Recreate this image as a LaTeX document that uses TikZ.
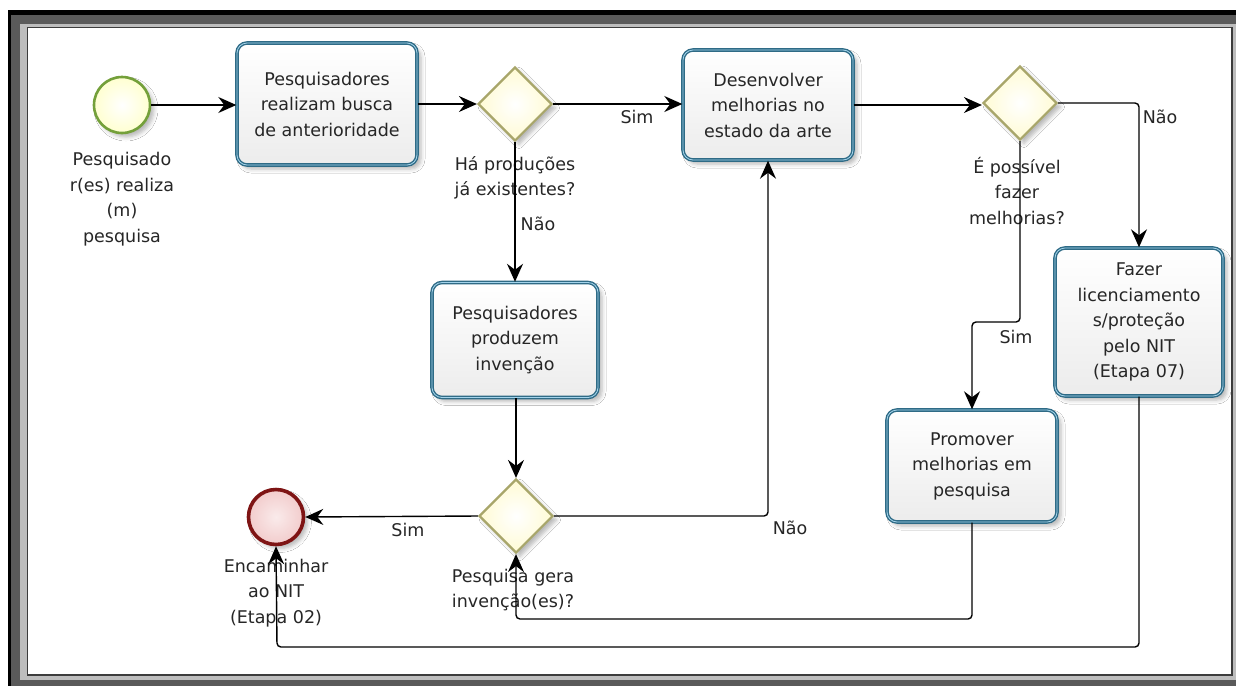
\documentclass[tikz,border=0pt]{standalone}
\usepackage{fontspec}
\setmainfont{DejaVu Sans}
\usetikzlibrary{shapes.geometric,arrows.meta,shadows.blur,calc}

\definecolor{txt}{HTML}{262626}
\definecolor{taskline}{HTML}{2F6B86}
\definecolor{taskinner}{HTML}{A4D4EC}
\definecolor{taskfill}{HTML}{ECECEC}
\definecolor{gateline}{HTML}{A8A66A}
\definecolor{gatefill}{HTML}{FFFBD4}
\definecolor{startline}{HTML}{74A03A}
\definecolor{startfill}{HTML}{FFFFD0}
\definecolor{endline}{HTML}{7E1414}
\definecolor{endfill}{HTML}{F2CCCC}
\definecolor{frdark}{HTML}{5A5A5A}
\definecolor{frlight}{HTML}{BDBDBD}
\definecolor{frline}{HTML}{3C3C3C}

\begin{document}
\begin{tikzpicture}[x=1pt,y=-1pt,
  font=\fontsize{17.5}{25.5}\selectfont,
  softshadow/.style={blur shadow={shadow xshift=4pt, shadow yshift=-4pt,
      shadow blur radius=4pt, shadow opacity=28}},
  taskbox/.style={rectangle, rounded corners=10pt, draw=taskline,
      double=taskinner, double distance=0.8pt, line width=1.4pt,
      top color=white, bottom color=taskfill, align=center, text=txt,
      inner sep=2pt, softshadow},
  gate/.style={diamond, draw=gateline, line width=2.2pt, inner color=white,
      outer color=gatefill, minimum width=74pt, minimum height=74pt,
      inner sep=0pt, softshadow},
  startev/.style={circle, draw=startline, line width=2.6pt, inner color=white,
      outer color=startfill, minimum size=56pt, inner sep=0pt, softshadow},
  endev/.style={circle, draw=endline, line width=3.6pt, inner color=white!60!endfill,
      outer color=endfill, minimum size=55pt, inner sep=0pt, softshadow},
  lbl/.style={align=center, text=txt, inner sep=0pt},
  flow/.style={draw=black, line width=1.4pt, rounded corners=4pt,
      -{Stealth[length=18pt, width=16pt, inset=6pt]}}
]
\useasboundingbox (0,0) rectangle (1236,686);

% page background and window frame
\fill[white] (0,0) rectangle (1236,686);
\fill[black] (8,10) rectangle (1236,686);
\fill[frdark] (11,15) rectangle (1236,686);
\fill[frlight] (20,24) rectangle (1236,680);
\filldraw[fill=white, draw=frline, line width=1.5pt] (27.5,27.5) rectangle (1232,675);

% events
\node[startev] (s) at (122,105) {};
\node[endev] (e) at (276,517) {};

% tasks
\node[taskbox, minimum width=180pt, minimum height=122pt] (t1) at (327,104)
  {Pesquisadores\\realizam busca\\de anterioridade};
\node[taskbox, minimum width=170pt, minimum height=110pt] (t2) at (768,105)
  {Desenvolver\\melhorias no\\estado da arte};
\node[taskbox, minimum width=166pt, minimum height=115pt] (t3) at (515,340)
  {Pesquisadores\\produzem\\invenção};
\node[taskbox, minimum width=168pt, minimum height=148pt] (t4) at (1139,322)
  {Fazer\\licenciamento\\s/proteção\\pelo NIT\\(Etapa 07)};
\node[taskbox, minimum width=170pt, minimum height=112pt] (t5) at (972,466)
  {Promover\\melhorias em\\pesquisa};

% gateways
\node[gate] (g1) at (515,104) {};
\node[gate] (g2) at (1020,103) {};
\node[gate] (g3) at (516,516) {};

% element captions
\node[lbl] (sl) at (122,199) {Pesquisado\\r(es) realiza\\(m)\\pesquisa};
\node[lbl] (g1l) at (515,178) {Há produções\\já existentes?};
\node[lbl] (g2l) at (1017,191) {É possível\\fazer\\melhorias?};
\node[lbl] (g3l) at (513,590) {Pesquisa gera\\invenção(es)?};
\node[lbl] (el) at (276,593) {Encaminhar\\ao NIT\\(Etapa 02)};

% branch labels
\node[lbl] (l1) at (637,117) {Sim};
\node[lbl] (l2) at (538,224) {Não};
\node[lbl] (l3) at (408,530) {Sim};
\node[lbl] (l4) at (790,528) {Não};
\node[lbl] (l5) at (1160,117) {Não};
\node[lbl] (l6) at (1016,337) {Sim};

% routing points
\coordinate (j2) at (1020,322);
\coordinate (r1) at (516,619);
\coordinate (r2) at (277,647);

% sequence flows
\draw[flow] (s.east) -- (s.east -| t1.west);
\draw[flow] (t1.east) -- (t1.east -| g1.west);
\draw[flow] (g1.east) -- (g1.east -| t2.west);
\draw[flow] (g1.south) -- (t3.north);
\draw[flow] (t3.south -| g3.north) -- (g3.north);
\draw[flow] (g3.west) -- (e.east);
\draw[flow] (g3.east) -| (t2.south);
\draw[flow] (t2.east) -- (t2.east -| g2.west);
\draw[flow] (g2.east) -| (t4.north);
\draw[flow] (g2.south) -- (j2) -| (t5.north);
\draw[flow] (t5.south) |- (r1) -- (g3.south);
\draw[flow] (t4.south) |- (r2) -- (e.south);
\end{tikzpicture}
\end{document}
